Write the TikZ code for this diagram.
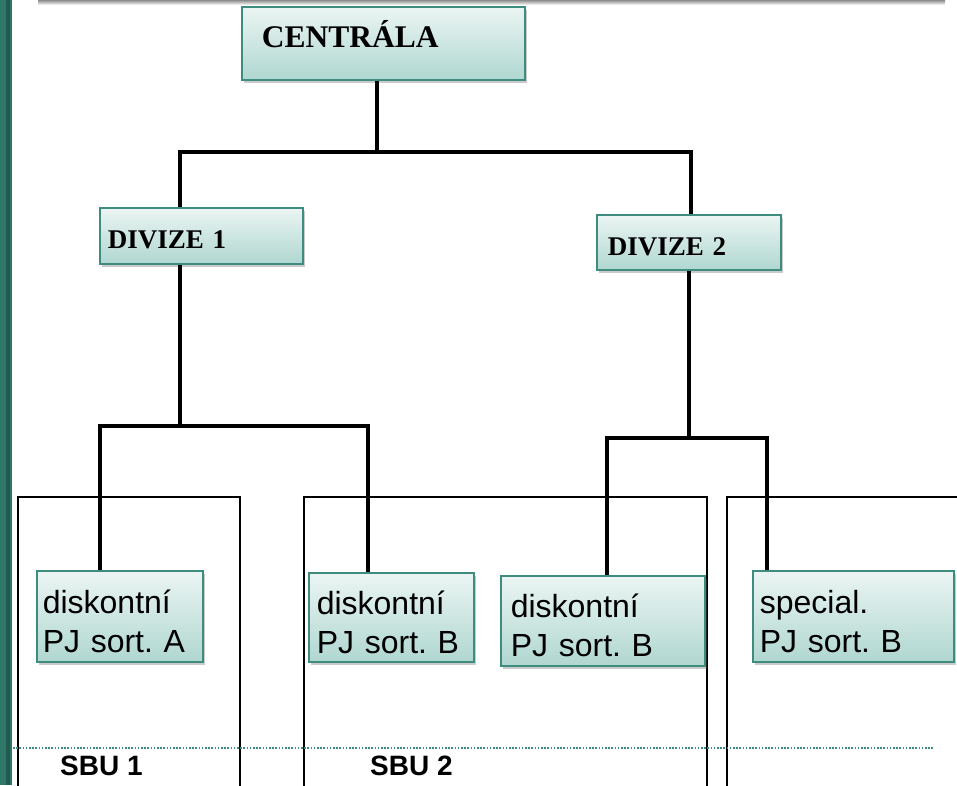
\documentclass[tikz,border=0pt]{standalone}
\usepackage{fontspec}
\setmainfont{Liberation Serif}
\setsansfont{Liberation Sans}
\usetikzlibrary{shadows}
\frenchspacing
\definecolor{strip}{HTML}{2F7768}
\definecolor{stripdark}{HTML}{215A4F}
\definecolor{boxline}{HTML}{3E8C80}
\definecolor{boxtop}{HTML}{EBF5F3}
\definecolor{boxbot}{HTML}{B0D7D0}
\definecolor{dotcol}{HTML}{3E8C80}
\tikzset{
  box/.style={draw=boxline, line width=1.6pt, top color=boxtop, bottom color=boxbot,
    drop shadow={shadow xshift=2pt, shadow yshift=-3pt, opacity=0.35, fill=black!60},
    anchor=north west, inner xsep=0pt, inner ysep=0pt, align=left},
  conn/.style={line width=4pt, black},
  frame/.style={line width=1.6pt, black},
  sanstext/.style={font=\sffamily\fontsize{32}{39}\selectfont},
  sbu/.style={font=\sffamily\bfseries\fontsize{28}{32}\selectfont, anchor=base west, inner sep=0pt}
}
\newcommand{\hir}{\rule{0pt}{33pt}}
\begin{document}
\begin{tikzpicture}[x=1pt,y=-1pt]
\useasboundingbox (0,0) rectangle (957,785);
% left strip
\fill[strip] (0,0) rectangle (12,785);
\fill[stripdark] (6,0) rectangle (10,785);
% top shadow band
\shade[top color=black!45, bottom color=white] (38,0) rectangle (945,5);
% SBU frames
\draw[frame] (18,790) -- (18,497) -- (240,497) -- (240,790);
\draw[frame] (304,790) -- (304,497) -- (707,497) -- (707,790);
\draw[frame] (727,790) -- (727,497) -- (960,497);
% dotted line
\draw[dotcol, line width=1.6pt, dash pattern=on 1.6pt off 1.6pt] (13,748) -- (933,748);
% boxes
\node[box, minimum width=283pt, minimum height=73pt, text width=283pt] (c) at (241,6)
  {\hspace*{20pt}{\fontsize{31.5}{36}\selectfont\bfseries CENTRÁLA\rule[-18pt]{0pt}{18pt}}};
\node[box, minimum width=203pt, minimum height=56pt, text width=203pt] (d1) at (99,207)
  {\hspace*{8pt}\fontsize{27}{30}\selectfont\bfseries\rule{0pt}{26pt}DIVIZE\hspace{0.33em}1};
\node[box, minimum width=184pt, minimum height=55pt, text width=184pt] (d2) at (596,214)
  {\hspace*{11pt}\fontsize{27}{30}\selectfont\bfseries\rule{0pt}{26pt}DIVIZE\hspace{0.33em}2};
\node[box, minimum width=166pt, minimum height=91pt, text width=166pt, sanstext] (pa) at (36,570)
  {\hspace*{6pt}\hir diskontní\\\hspace*{6pt}PJ sort. A};
\node[box, minimum width=165pt, minimum height=89pt, text width=165pt, sanstext] (pb) at (308,572)
  {\hspace*{8pt}\hir diskontní\\\hspace*{8pt}PJ sort. B};
\node[box, minimum width=204pt, minimum height=90pt, text width=204pt, sanstext] (pc) at (500,575)
  {\hspace*{10pt}\hir diskontní\\\hspace*{10pt}PJ sort. B};
\node[box, minimum width=201pt, minimum height=91pt, text width=201pt, sanstext] (pd) at (752,570)
  {\hspace*{7pt}\hir special.\\\hspace*{7pt}PJ sort. B};
% SBU labels
\node[sbu] (s1) at (60,775) {SBU 1};
\node[sbu] (s2) at (370,775) {SBU 2};
% connectors
\coordinate (j0) at (377,152);
\coordinate (j0l) at (180,152);
\coordinate (j0r) at (691,152);
\draw[conn] (c.south -| j0) -- (j0);
\draw[conn, line join=miter] (d1.north -| j0l) -- (j0l) -- (j0r) -- (d2.north -| j0r);
\coordinate (j1) at (180,426);
\coordinate (j1l) at (100,426);
\coordinate (j1r) at (368,426);
\draw[conn] (d1.south -| j1) -- (j1);
\draw[conn, line join=miter] (pa.north -| j1l) -- (j1l) -- (j1r) -- (pb.north -| j1r);
\coordinate (j2) at (689,438);
\coordinate (j2l) at (607,438);
\coordinate (j2r) at (767,438);
\draw[conn] (d2.south -| j2) -- (j2);
\draw[conn, line join=miter] (pc.north -| j2l) -- (j2l) -- (j2r) -- (pd.north -| j2r);
\end{tikzpicture}
\end{document}
